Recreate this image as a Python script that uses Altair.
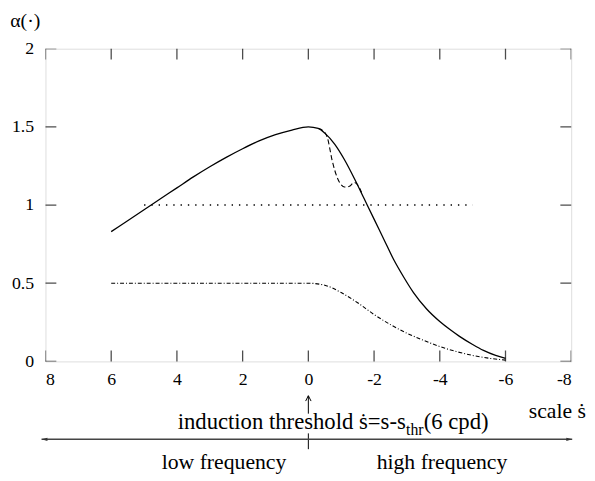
import altair as alt
import pandas as pd

# ---- data ----
x_solid = [6, 5.5, 5, 4.5, 4, 3.5, 3, 2.5, 2, 1.5, 1, 0.5, 0, -0.3, -0.5, -0.8, -1.1, -1.4, -1.7,
           -2, -2.3, -2.6, -2.9, -3.2, -3.6, -4, -4.3, -4.6, -5, -5.33, -5.7, -6]
y_solid = [0.83, 0.90, 0.97, 1.04, 1.11, 1.18, 1.245, 1.305, 1.36, 1.41, 1.45, 1.48, 1.5, 1.49,
           1.46, 1.39, 1.29, 1.17, 1.04, 0.91, 0.78, 0.65, 0.54, 0.44, 0.335, 0.255, 0.205, 0.16,
           0.108, 0.07, 0.038, 0.02]

x_dashed = [-0.3, -0.45, -0.58, -0.73, -0.88, -1.0, -1.1, -1.25, -1.4, -1.5, -1.62]
y_dashed = [1.49, 1.475, 1.43, 1.28, 1.175, 1.13, 1.115, 1.12, 1.145, 1.13, 1.08]

x_dotted = [5, -5]
y_dotted = [1, 1]

x_dashdot = [6, 5, 4, 3, 2, 1, 0, -0.5, -1, -1.5, -2, -2.5, -3, -3.5, -4, -4.5, -5, -5.5, -6]
y_dashdot = [0.5, 0.5, 0.5, 0.5, 0.5, 0.5, 0.5, 0.487, 0.44, 0.375, 0.30, 0.235, 0.18, 0.135,
             0.095, 0.063, 0.038, 0.02, 0.008]

x_ticks = [8, 6, 4, 2, 0, -2, -4, -6, -8]
y_ticks = [0, 0.5, 1, 1.5, 2]

threshold_x = [0]
arrow_ends = [8.12, -8.03]

FONT = "Liberation Serif"
W, H = 533, 317
AF = 23  # annotation font size

xs = alt.Scale(domain=[-8, 8], reverse=True, nice=False, zero=False)
ys = alt.Scale(domain=[0, 2], nice=False, zero=False)

x_axis = alt.Axis(values=x_ticks, labelExpr="datum.value + ''", ticks=False, domain=False,
                  grid=False, labelPadding=9, labelFontSize=18, labelFont=FONT,
                  labelColor="black", title=None)
y_axis = alt.Axis(values=y_ticks, labelExpr="datum.value + ''", ticks=False, domain=False,
                  grid=False, labelPadding=12, labelFontSize=18, labelFont=FONT,
                  labelColor="black", title="α(·)", titleAngle=0, titleX=-21, titleY=-23,
                  titleAlign="center", titleBaseline="alphabetic", titleFontSize=20,
                  titleFont=FONT, titleFontWeight="normal", titleColor="black")


def X(field="x"):
    return alt.X(f"{field}:Q", scale=xs, axis=x_axis)


def Y(field="y"):
    return alt.Y(f"{field}:Q", scale=ys, axis=y_axis)


solid = alt.Chart(pd.DataFrame({"x": x_solid, "y": y_solid})).mark_line(
    color="black", strokeWidth=1.3, interpolate="monotone").encode(x=X(), y=Y())
dashed = alt.Chart(pd.DataFrame({"x": x_dashed, "y": y_dashed})).mark_line(
    color="black", strokeWidth=1.1, strokeDash=[5, 3], interpolate="monotone").encode(x=X(), y=Y())
dotted = alt.Chart(pd.DataFrame({"x": x_dotted, "y": y_dotted})).mark_line(
    color="black", strokeWidth=1.4, strokeDash=[1.4, 6]).encode(x=X(), y=Y())
dashdot = alt.Chart(pd.DataFrame({"x": x_dashdot, "y": y_dashdot})).mark_line(
    color="black", strokeWidth=1.1, strokeDash=[4, 2, 1, 2], interpolate="monotone").encode(x=X(), y=Y())

# inward ticks (half of each tick clipped by the plot area)
xt = pd.DataFrame({"v": x_ticks})
yt = pd.DataFrame({"v": y_ticks})
tick_style = dict(color="black", thickness=1.3, size=22, clip=True)
xt_bottom = alt.Chart(xt).mark_tick(orient="vertical", **tick_style).encode(
    x=X("v"), y=alt.YDatum(0, type="quantitative", scale=ys, axis=y_axis))
xt_top = alt.Chart(xt).mark_tick(orient="vertical", **tick_style).encode(
    x=X("v"), y=alt.YDatum(2, type="quantitative", scale=ys, axis=y_axis))
yt_left = alt.Chart(yt).mark_tick(orient="horizontal", **tick_style).encode(
    y=Y("v"), x=alt.XDatum(8, type="quantitative", scale=xs, axis=x_axis))
yt_right = alt.Chart(yt).mark_tick(orient="horizontal", **tick_style).encode(
    y=Y("v"), x=alt.XDatum(-8, type="quantitative", scale=xs, axis=x_axis))

# ---- annotations below the plot ----
thr_df = pd.DataFrame({"x": threshold_x})
thr_shaft = alt.Chart(thr_df).mark_rule(color="black", strokeWidth=1).encode(
    x=X(), y=alt.value(352), y2=alt.value(370))
thr_head = alt.Chart(thr_df).mark_point(
    shape="M-1,1L0,-1L1,1", filled=False, color="black", strokeWidth=1, size=30, opacity=1
).encode(x=X(), y=alt.value(354.5))
div_tick = alt.Chart(thr_df).mark_rule(color="black", strokeWidth=1).encode(
    x=X(), y=alt.value(390), y2=alt.value(406))

ends_df = pd.DataFrame({"x": [arrow_ends[0]], "x2": [arrow_ends[1]]})
hline = alt.Chart(ends_df).mark_rule(color="#444", strokeWidth=1.4).encode(
    x=X(), x2="x2:Q", y=alt.value(396))
head_l = alt.Chart(pd.DataFrame({"x": [arrow_ends[0]]})).mark_point(
    shape="M-1,0L1,-0.55L1,0.55Z", filled=True, color="#333", size=36, opacity=1
).encode(x=X(), y=alt.value(396), xOffset=alt.value(3))
head_r = alt.Chart(pd.DataFrame({"x": [arrow_ends[1]]})).mark_point(
    shape="M1,0L-1,-0.55L-1,0.55Z", filled=True, color="#333", size=36, opacity=1
).encode(x=X(), y=alt.value(396), xOffset=alt.value(-3))


def label(text, x, y, size=AF, align="left"):
    return alt.Chart(pd.DataFrame({"t": [text]})).mark_text(
        font=FONT, fontSize=size, align=align, baseline="alphabetic", color="black"
    ).encode(text="t:N", x=alt.value(x), y=alt.value(y))


t1 = label("induction threshold ṡ=s-s", 134, 386)
t2 = label("thr", 365.5, 392, size=16)
t3 = label("(6 cpd)", 383.5, 386)
t_scale = label("scale ṡ", 548, 374, size=22, align="right")
t_low = label("low frequency", 181, 426, size=22, align="center")
t_high = label("high frequency", 402, 426, size=22, align="center")

chart = alt.layer(
    solid, dashed, dotted, dashdot,
    xt_bottom, xt_top, yt_left, yt_right,
    thr_shaft, thr_head, div_tick, hline, head_l, head_r,
    t1, t2, t3, t_scale, t_low, t_high,
).properties(
    width=W, height=H,
    autosize=alt.AutoSizeParams(type="none"),
    padding={"left": 38, "top": 38, "right": 16, "bottom": 118},
).configure_view(
    stroke="black", strokeWidth=1.5
).configure_axis(
    labelFont=FONT, titleFont=FONT, labelFontSize=18, labelColor="black"
).configure_text(
    font=FONT
).configure(background="white")

chart.save("out.html", embed_options={"renderer": "svg", "actions": False})
